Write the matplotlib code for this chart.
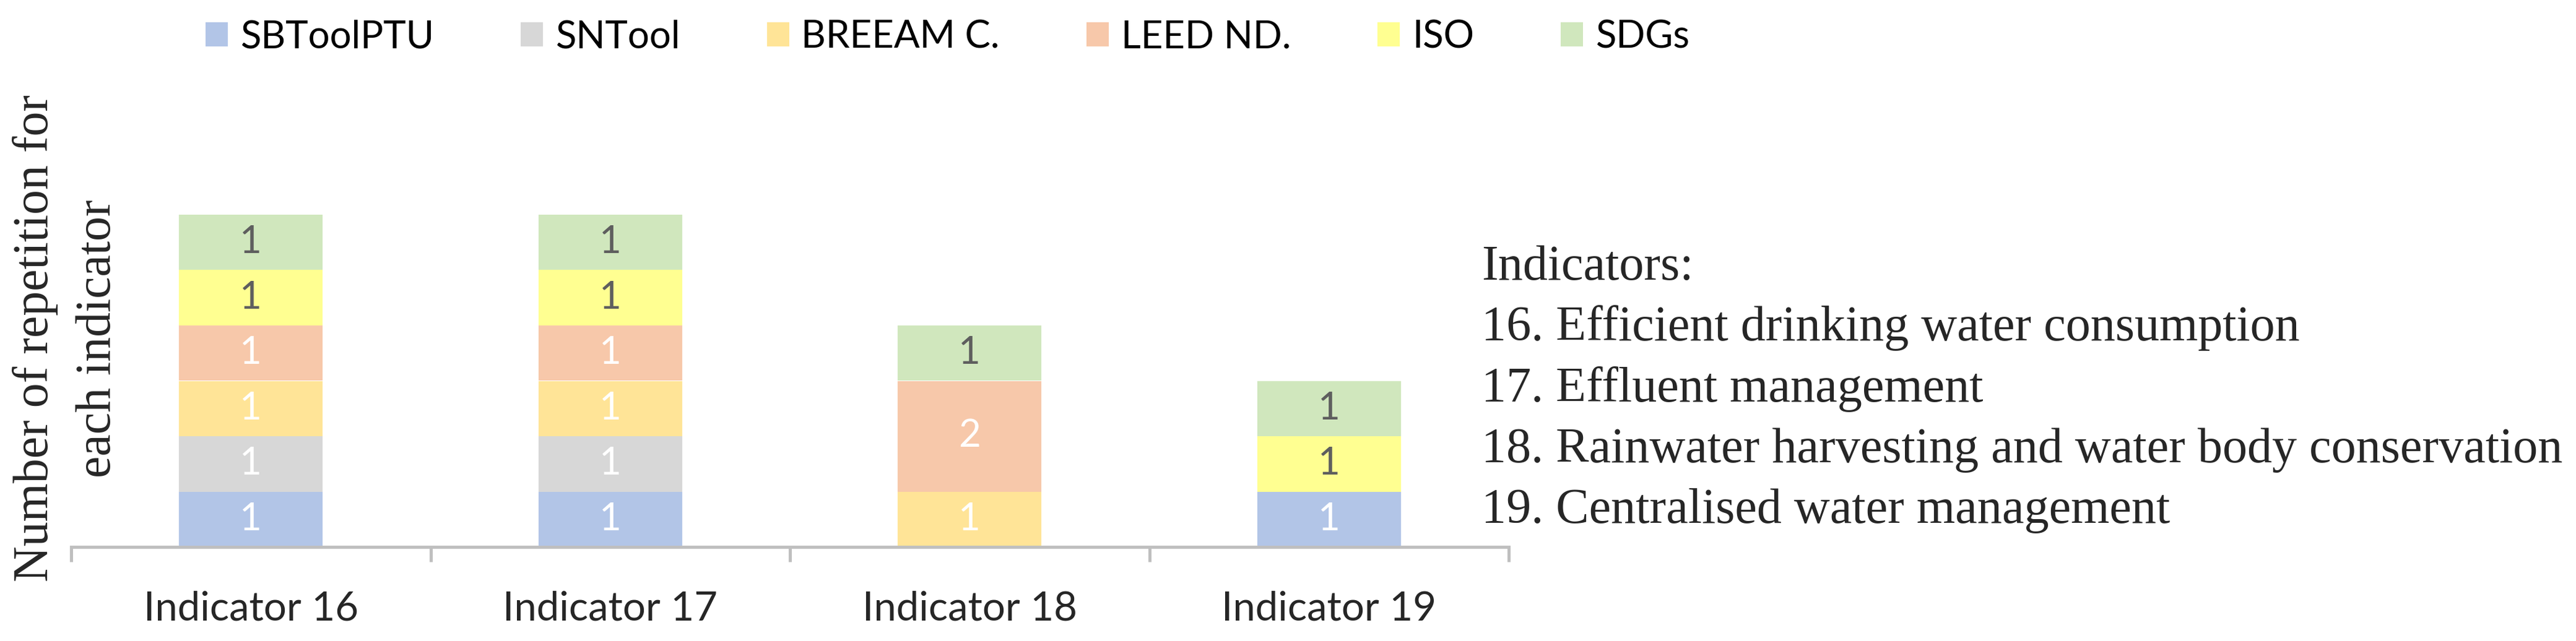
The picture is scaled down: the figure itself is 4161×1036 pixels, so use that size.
import matplotlib
matplotlib.use("Agg")
import matplotlib.pyplot as plt
import numpy as np

categories = ["Indicator 16", "Indicator 17", "Indicator 18", "Indicator 19"]
series_names = ["SBToolPTU", "SNTool", "BREEAM C.", "LEED ND.", "ISO", "SDGs"]
sbtoolptu = [1, 1, 0, 1]
sntool = [1, 1, 0, 0]
breeam = [1, 1, 1, 0]
leed = [1, 1, 2, 0]
iso = [1, 1, 0, 1]
sdgs = [1, 1, 1, 1]
series_values = [sbtoolptu, sntool, breeam, leed, iso, sdgs]

colors = ["#B2C5E7", "#D7D7D7", "#FFE497", "#F7C8AA", "#FFFF91", "#D0E7BD"]
label_colors = ["white", "white", "white", "white", "#5E5E5E", "#5E5E5E"]

ylabel_lines = ["Number of repetition for", "each indicator"]
note_lines = [
    "Indicators:",
    "16. Efficient drinking water consumption",
    "17. Effluent management",
    "18. Rainwater harvesting and water body conservation",
    "19. Centralised water management",
]

W, H, DPI = 4161, 1036, 100
fig = plt.figure(figsize=(W / DPI, H / DPI), dpi=DPI)
renderer = fig.canvas.get_renderer()

sans = ["Lato", "DejaVu Sans"]
serif = ["Liberation Serif", "DejaVu Serif"]


def fit_size(text, family, px):
    # font size (pt) that makes `text` about `px` pixels wide
    t = fig.text(0, 0, text, family=family, fontsize=100)
    w = t.get_window_extent(renderer).width
    t.remove()
    return 100 * px / w


tick_fs = fit_size("Indicator 16", sans, 347)
legend_fs = fit_size("BREEAM C.", sans, 321)
note_fs = fit_size(note_lines[3], serif, 1746)
ylab_fs = fit_size(ylabel_lines[1], serif, 450)

# axes: x axis from px 115 to 2437, baseline at px 884 from top
ax_left, ax_right = 115, 2437
ax_bottom, ax_top = 884, 212
ax = fig.add_axes([ax_left / W, 1 - ax_bottom / H,
                   (ax_right - ax_left) / W, (ax_bottom - ax_top) / H])

x = np.arange(len(categories))
bottom = np.zeros(len(categories))
for name, vals, c, lc in zip(series_names, series_values, colors, label_colors):
    bars = ax.bar(x, vals, 0.4, bottom=bottom, color=c, label=name, linewidth=0)
    ax.bar_label(bars, labels=[str(v) if v else "" for v in vals],
                 label_type="center", color=lc, fontsize=tick_fs * 0.95,
                 family=sans)
    bottom += np.array(vals)

ax.set_xlim(-0.5, len(categories) - 0.5)
ax.set_ylim(0, (ax_bottom - ax_top) / 89.5)

for s in ["top", "right", "left"]:
    ax.spines[s].set_visible(False)
ax.spines["bottom"].set_color("#BFBFBF")
ax.spines["bottom"].set_linewidth(3.6)
ax.set_yticks([])

ax.set_xticks(x)
ax.set_xticklabels(categories, family=sans, fontsize=tick_fs, color="#262626")
ax.set_xticks(np.arange(len(categories) + 1) - 0.5, minor=True)
ax.tick_params(axis="x", which="major", length=0, pad=51)
ax.tick_params(axis="x", which="minor", length=17, width=3.6, color="#BFBFBF")

# legend row across the top
em = legend_fs * DPI / 72
fig.legend(loc="center left", bbox_to_anchor=(332 / W, 1 - 60 / H), ncol=6,
           frameon=False, prop={"family": sans, "size": legend_fs},
           handlelength=36 / em, handleheight=36 / em, handletextpad=20 / em,
           columnspacing=140 / em, borderpad=0, borderaxespad=0)

# y axis title, two lines rotated
for xb, line in zip([77, 178], ylabel_lines):
    fig.text(xb / W, 1 - 547 / H, line, rotation=90, rotation_mode="anchor",
             ha="center", va="baseline", family=serif, fontsize=ylab_fs,
             color="#262626")

# indicator notes on the right
for i, line in enumerate(note_lines):
    yb = 452 + i * 98.3
    fig.text(2393 / W, 1 - yb / H, line, ha="left", va="baseline",
             family=serif, fontsize=note_fs, color="#262626")

fig.savefig("out.png", dpi=DPI, facecolor="white")
